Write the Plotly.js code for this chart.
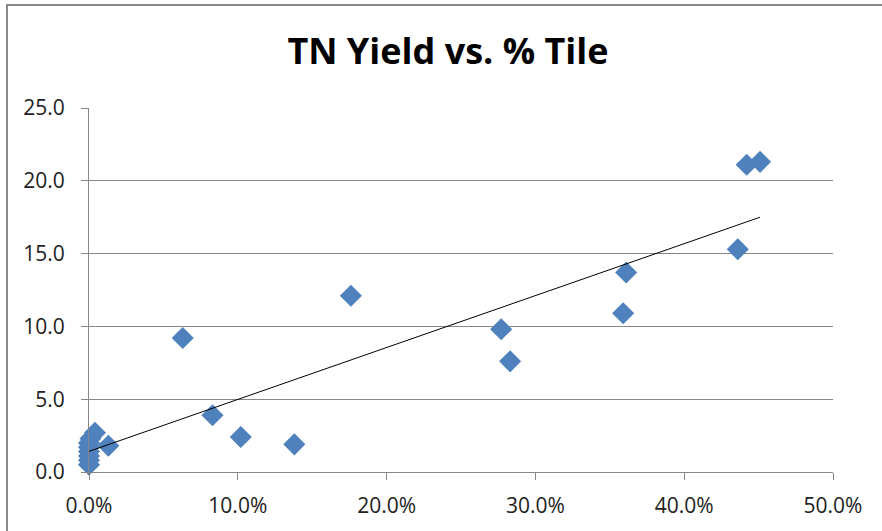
<!DOCTYPE html>
<html>
<head>
<meta charset="utf-8">
<script src="https://cdn.plot.ly/plotly-3.0.1.min.js"></script>
<style>
  html, body { margin: 0; padding: 0; background: #fff; overflow: hidden; }
  #wrap { position: relative; width: 882px; height: 531px; }
  #chart { position: absolute; left: 0; top: 0; width: 882px; height: 531px; }
  #frame { position: absolute; left: 6px; top: 4px; width: 900px; height: 560px;
           border-left: 2px solid #8a8a8a; border-top: 2px solid #8a8a8a; pointer-events: none; }
</style>
</head>
<body>
<div id="wrap">
  <div id="chart"></div>
  <div id="frame"></div>
</div>
<script>
// Percent tile (fraction) and TN yield values
const tilePct = [0.000, 0.000, 0.000, 0.000, 0.000, 0.000, 0.001, 0.004, 0.013,
                 0.063, 0.083, 0.102, 0.138, 0.176, 0.277, 0.283, 0.359, 0.361,
                 0.436, 0.442, 0.451];
const tnYield = [0.5, 0.8, 1.1, 1.4, 1.7, 2.0, 2.3, 2.7, 1.8,
                 9.2, 3.9, 2.4, 1.9, 12.1, 9.8, 7.6, 10.9, 13.7,
                 15.3, 21.1, 21.3];
const xTickVals = [0, 0.1, 0.2, 0.3, 0.4, 0.5];
const yTickVals = [0, 5, 10, 15, 20, 25];
const chartTitle = 'TN Yield vs. % Tile';

// Linear least-squares trendline (like the spreadsheet's linear trendline)
const n = tilePct.length;
const mx = tilePct.reduce((a, b) => a + b, 0) / n;
const my = tnYield.reduce((a, b) => a + b, 0) / n;
let sxy = 0, sxx = 0;
for (let i = 0; i < n; i++) { sxy += (tilePct[i] - mx) * (tnYield[i] - my); sxx += (tilePct[i] - mx) ** 2; }
const slope = sxy / sxx, intercept = my - slope * mx;
const xMin = Math.min(...tilePct), xMax = Math.max(...tilePct);
const trendX = [xMin, xMax];
const trendY = trendX.map(x => intercept + slope * x);

const font = "'Open Sans', 'Noto Sans', sans-serif";

const data = [
  { type: 'scatter', mode: 'markers', x: tilePct, y: tnYield, cliponaxis: false,
    marker: { symbol: 'diamond', size: 17, color: '#4F81BD', line: { width: 0 } },
    hoverinfo: 'x+y', showlegend: false },
  { type: 'scatter', mode: 'lines', x: trendX, y: trendY, cliponaxis: false,
    line: { color: '#000000', width: 1 }, hoverinfo: 'skip', showlegend: false }
];

const layout = {
  width: 882, height: 531,
  margin: { l: 89, r: 49, t: 108, b: 59, pad: 0 },
  paper_bgcolor: '#ffffff', plot_bgcolor: '#ffffff',
  font: { family: font, size: 21, color: '#222222' },
  title: { text: '<b>' + chartTitle + '</b>', x: 448 / 882, xref: 'container', xanchor: 'center',
           y: 1 - 51 / 531, yref: 'container', yanchor: 'middle',
           font: { family: font, size: 36, color: '#000000' } },
  xaxis: { range: [0, 0.5], tickvals: xTickVals, tickformat: '.1%', showgrid: false, zeroline: false,
           showline: true, linecolor: '#868686', linewidth: 1, ticks: 'outside', ticklen: 7,
           tickcolor: '#868686', tickfont: { family: font, size: 21, color: '#222222' },
           ticklabelstandoff: 8, fixedrange: true },
  yaxis: { range: [0, 25], tickvals: yTickVals, tickformat: '.1f', showgrid: true, gridcolor: '#868686',
           gridwidth: 1, zeroline: false, showline: true, linecolor: '#868686', linewidth: 1,
           ticks: 'outside', ticklen: 7, tickcolor: '#868686', tickfont: { family: font, size: 21, color: '#222222' },
           ticklabelstandoff: 12, fixedrange: true },
  showlegend: false
};

Plotly.newPlot('chart', data, layout, { displayModeBar: false, staticPlot: true });
</script>
</body>
</html>
